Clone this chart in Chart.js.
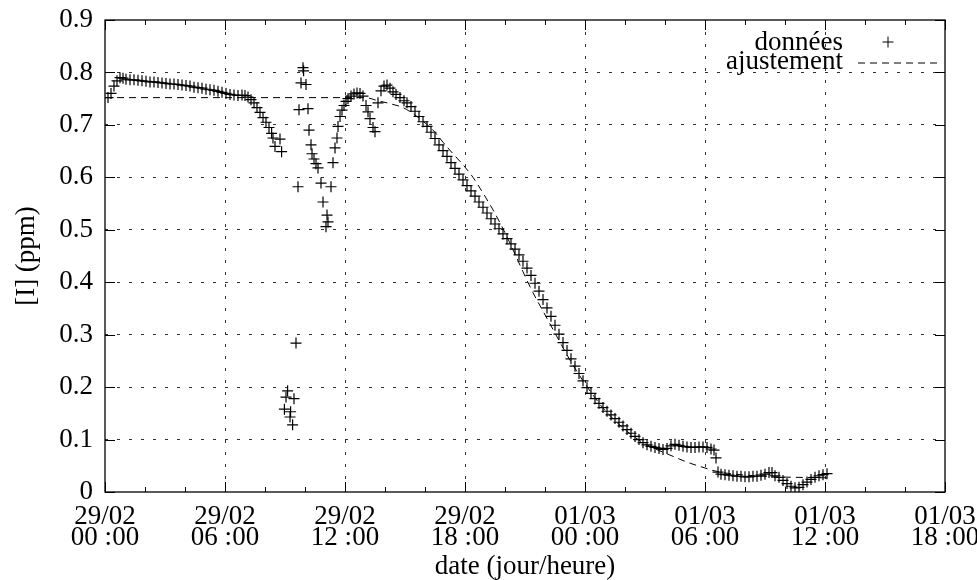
<!DOCTYPE html>
<html lang="fr">
<head>
<meta charset="utf-8">
<title>[I] (ppm)</title>
<script src="https://cdn.jsdelivr.net/npm/chart.js@4.4.1/dist/chart.umd.min.js"></script>
<style>
  html, body { margin: 0; padding: 0; background: #fff; }
  canvas { display: block; }
</style>
</head>
<body>
<canvas id="graphe" width="977" height="580"></canvas>
<script>
// heures depuis le 29/02 00:00
const heures = [
  0.15, 0.3, 0.45, 0.6, 0.75, 0.9, 1.05, 1.25, 1.45, 1.65, 1.85, 2.05, 2.25, 2.45, 2.65, 2.85,
  3.05, 3.25, 3.45, 3.65, 3.85, 4.05, 4.25, 4.45, 4.65, 4.85, 5.05, 5.25, 5.45, 5.65, 5.85,
  6.05, 6.25, 6.45, 6.65, 6.85, 7.0, 7.15, 7.3, 7.45, 7.6, 7.75, 7.9, 8.05, 8.2, 8.33, 8.4,
  8.5, 8.75, 8.83, 8.97, 9.05, 9.13, 9.25, 9.28, 9.38, 9.45, 9.55, 9.65, 9.7, 9.8, 9.9, 9.93,
  10.05, 10.15, 10.2, 10.3, 10.35, 10.45, 10.55, 10.65, 10.8, 10.9, 11.05, 11.1, 11.15, 11.3,
  11.4, 11.5, 11.6, 11.65, 11.75, 11.85, 11.95, 12.05, 12.15, 12.3, 12.45, 12.6, 12.75, 12.9,
  13.05, 13.15, 13.25, 13.4, 13.5, 13.65, 13.8, 13.95, 14.1, 14.25, 14.4, 14.55, 14.75, 14.95,
  15.1, 15.3, 15.5, 15.7, 15.9, 16.1, 16.3, 16.5, 16.7, 16.9, 17.1, 17.3, 17.5, 17.7, 17.9,
  18.1, 18.3, 18.5, 18.7, 18.9, 19.1, 19.3, 19.5, 19.7, 19.9, 20.1, 20.3, 20.5, 20.7, 20.9,
  21.1, 21.3, 21.5, 21.7, 21.9, 22.1, 22.3, 22.5, 22.7, 22.9, 23.1, 23.3, 23.5, 23.7, 23.9,
  24.1, 24.3, 24.5, 24.7, 24.9, 25.1, 25.3, 25.5, 25.7, 25.9, 26.1, 26.3, 26.5, 26.7, 26.9,
  27.1, 27.3, 27.5, 27.7, 27.9, 28.1, 28.3, 28.5, 28.7, 28.9, 29.1, 29.3, 29.5, 29.7, 29.9,
  30.1, 30.3, 30.45, 30.55, 30.65, 30.8, 31.0, 31.2, 31.4, 31.6, 31.8, 32.0, 32.2, 32.4, 32.6,
  32.8, 33.0, 33.2, 33.35, 33.5, 33.7, 33.9, 34.1, 34.3, 34.5, 34.7, 34.9, 35.1, 35.3, 35.5,
  35.7, 35.9, 36.1
];
const concentrations = [
  0.752, 0.760, 0.774, 0.784, 0.790, 0.789, 0.787, 0.786, 0.786, 0.785, 0.784, 0.783, 0.782, 0.782, 0.781, 0.780,
  0.779, 0.778, 0.778, 0.777, 0.776, 0.775, 0.774, 0.772, 0.771, 0.770, 0.768, 0.767, 0.766, 0.764, 0.762,
  0.760, 0.758, 0.757, 0.756, 0.757, 0.756, 0.753, 0.748, 0.742, 0.733, 0.724, 0.714, 0.705, 0.695, 0.684, 0.675,
  0.659, 0.673, 0.649, 0.158, 0.181, 0.193, 0.143, 0.153, 0.128, 0.178, 0.284, 0.582, 0.729, 0.780, 0.809, 0.803,
  0.777, 0.731, 0.690, 0.662, 0.645, 0.635, 0.626, 0.618, 0.589, 0.553, 0.506, 0.528, 0.515, 0.582,
  0.628, 0.656, 0.675, 0.697, 0.716, 0.728, 0.737, 0.745, 0.750, 0.755, 0.759, 0.761, 0.760, 0.755,
  0.737, 0.725, 0.712, 0.695, 0.687, 0.742, 0.765, 0.774, 0.776, 0.770, 0.763, 0.758, 0.752, 0.746,
  0.742, 0.735, 0.726, 0.716, 0.706, 0.697, 0.686, 0.674, 0.662, 0.651, 0.640, 0.628, 0.617, 0.606, 0.595,
  0.584, 0.574, 0.564, 0.553, 0.543, 0.532, 0.521, 0.511, 0.502, 0.492, 0.483, 0.473, 0.463, 0.452, 0.440,
  0.427, 0.413, 0.398, 0.383, 0.367, 0.351, 0.335, 0.318, 0.301, 0.285, 0.270, 0.254, 0.240, 0.226, 0.212,
  0.199, 0.188, 0.178, 0.169, 0.161, 0.154, 0.147, 0.140, 0.133, 0.126, 0.119, 0.112, 0.106, 0.100, 0.094,
  0.090, 0.087, 0.085, 0.083, 0.081, 0.083, 0.088, 0.091, 0.089, 0.087, 0.086, 0.085, 0.085, 0.086, 0.086,
  0.085, 0.082, 0.080, 0.065, 0.038, 0.034, 0.033, 0.032, 0.031, 0.030, 0.030, 0.029, 0.029, 0.030, 0.030,
  0.032, 0.034, 0.037, 0.037, 0.031, 0.028, 0.022, 0.016, 0.011, 0.008, 0.009, 0.014, 0.019, 0.024, 0.028,
  0.031, 0.033, 0.035
];

// courbe d'ajustement
const heuresFit = [
  0, 13, 13.65, 14.3, 14.9, 15.6, 16.4, 16.9, 17.4, 17.9, 18.4, 18.9, 19.4, 19.9, 20.4, 20.9,
  21.4, 21.9, 22.4, 22.9, 23.4, 23.9, 24.4, 24.9, 25.4, 25.9, 26.4, 26.9, 27.4, 27.9, 28.4,
  28.9, 29.4, 29.9, 30.4, 30.9, 31.5, 32.5, 33.5, 34.5, 36.1
];
const valeursFit = [
  0.752, 0.752, 0.746, 0.740, 0.733, 0.716, 0.690, 0.667, 0.645, 0.624, 0.600, 0.570, 0.538, 0.502, 0.462, 0.420,
  0.380, 0.345, 0.310, 0.275, 0.242, 0.212, 0.185, 0.160, 0.140, 0.122, 0.107, 0.094, 0.084, 0.076, 0.068,
  0.060, 0.053, 0.047, 0.041, 0.037, 0.034, 0.031, 0.029, 0.028, 0.027
];

// étiquettes de l'axe des temps (toutes les 6 h)
const jours = ['29/02', '29/02', '29/02', '29/02', '01/03', '01/03', '01/03', '01/03'];
const heuresTxt = ['00 :00', '06 :00', '12 :00', '18 :00', '00 :00', '06 :00', '12 :00', '18 :00'];

const POLICE = "'Liberation Serif', 'DejaVu Serif', serif";
Chart.defaults.font.family = POLICE;
Chart.defaults.font.size = 27;
Chart.defaults.color = '#000';

const pointilles = '#333';

// cadre, graduations vers l'intérieur et légende à la gnuplot
const cadre = {
  id: 'cadre',
  afterDatasetsDraw(chart) {
    const { ctx, chartArea: a, scales: { x, y } } = chart;
    ctx.save();
    ctx.strokeStyle = '#000';
    ctx.lineWidth = 1;
    ctx.beginPath();
    for (let h = 0; h <= 42; h += 2) {
      const px = Math.round(x.getPixelForValue(h)) + 0.5;
      const l = h % 6 === 0 ? 10 : 5;
      ctx.moveTo(px, a.bottom); ctx.lineTo(px, a.bottom - l);
      ctx.moveTo(px, a.top); ctx.lineTo(px, a.top + l);
    }
    y.ticks.forEach(t => {
      const py = Math.round(y.getPixelForValue(t.value)) + 0.5;
      ctx.moveTo(a.left, py); ctx.lineTo(a.left + 10, py);
      ctx.moveTo(a.right, py); ctx.lineTo(a.right - 10, py);
    });
    ctx.stroke();
    ctx.lineWidth = 1.3;
    ctx.strokeRect(a.left, a.top, a.width, a.height);

    // légende
    const ds = chart.data.datasets;
    ctx.font = '27px ' + POLICE;
    ctx.fillStyle = '#000';
    ctx.textAlign = 'right';
    ctx.textBaseline = 'middle';
    const xt = a.right - 102;
    ctx.fillText(ds[0].label, xt, a.top + 23);
    ctx.fillText(ds[1].label, xt, a.top + 42);
    ctx.lineWidth = 1;
    ctx.beginPath();
    const cx = a.right - 57, cy = a.top + 22;
    ctx.moveTo(cx - 5.5, cy); ctx.lineTo(cx + 5.5, cy);
    ctx.moveTo(cx, cy - 5.5); ctx.lineTo(cx, cy + 5.5);
    ctx.stroke();
    ctx.setLineDash([7, 5]);
    ctx.beginPath();
    ctx.moveTo(a.right - 87, a.top + 43);
    ctx.lineTo(a.right - 5, a.top + 43);
    ctx.stroke();
    ctx.restore();
  }
};

new Chart(document.getElementById('graphe'), {
  type: 'scatter',
  data: {
    datasets: [
      {
        label: 'données',
        data: heures.map((h, i) => ({ x: h, y: concentrations[i] })),
        pointStyle: 'cross',
        pointRadius: 5.5,
        pointBorderWidth: 1.2,
        pointBorderColor: '#000',
        pointBackgroundColor: '#000',
        order: 1
      },
      {
        label: 'ajustement',
        data: heuresFit.map((h, i) => ({ x: h, y: valeursFit[i] })),
        showLine: true,
        pointRadius: 0,
        borderColor: '#000',
        borderWidth: 1,
        borderDash: [7, 5],
        cubicInterpolationMode: 'monotone',
        order: 0
      }
    ]
  },
  options: {
    responsive: false,
    animation: false,
    events: [],
    layout: { padding: { top: 20, right: 32, left: 0, bottom: 0 } },
    plugins: { legend: { display: false }, tooltip: { enabled: false } },
    scales: {
      x: {
        type: 'linear',
        min: 0,
        max: 42,
        afterFit: s => { s.height = 88; s.paddingLeft = 0; s.paddingRight = 0; },
        ticks: {
          stepSize: 2,
          autoSkip: false,
          maxRotation: 0,
          padding: 14,
          font: { size: 27, lineHeight: 0.78 },
          callback: v => v % 6 === 0 ? [jours[v / 6], heuresTxt[v / 6]] : ''
        },
        grid: {
          drawTicks: false,
          lineWidth: 1,
          color: c => (c.tick && c.tick.value % 6 === 0 && c.tick.value > 0 && c.tick.value < 42) ? pointilles : 'rgba(0,0,0,0)'
        },
        border: { display: false, dash: [3, 9] },
        title: {
          display: true,
          text: 'date (jour/heure)',
          font: { size: 27, lineHeight: 1 },
          padding: { top: 0, bottom: 0 }
        }
      },
      y: {
        min: 0,
        max: 0.9,
        afterFit: s => { s.width = 105; s.paddingTop = 0; s.paddingBottom = 0; },
        ticks: {
          stepSize: 0.1,
          padding: 12,
          font: { size: 27, lineHeight: 1 },
          callback: v => v === 0 ? '0' : v.toFixed(1)
        },
        grid: {
          drawTicks: false,
          lineWidth: 1,
          color: c => (c.tick && c.tick.value > 0.001 && c.tick.value < 0.899) ? pointilles : 'rgba(0,0,0,0)'
        },
        border: { display: false, dash: [3, 9] },
        title: {
          display: true,
          text: '[I] (ppm)',
          font: { size: 27, lineHeight: 1 },
          padding: { top: 13, bottom: 0 }
        }
      }
    }
  },
  plugins: [cadre]
});
</script>
</body>
</html>
